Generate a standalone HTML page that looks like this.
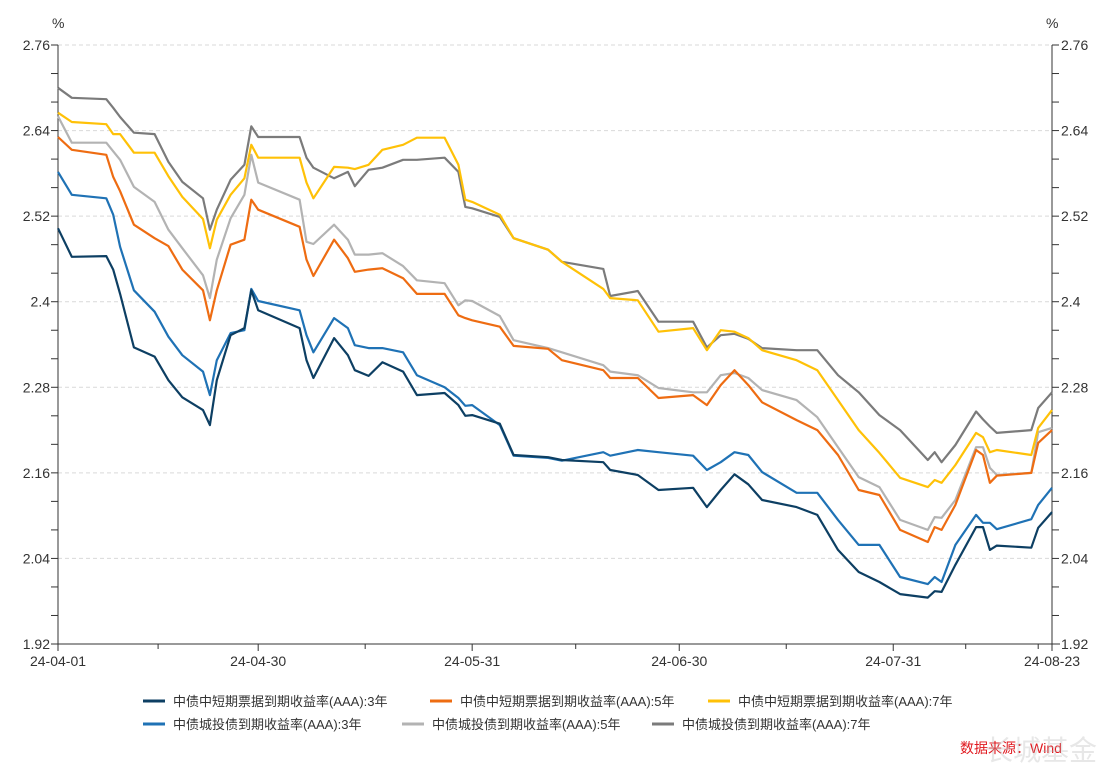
<!DOCTYPE html>
<html><head><meta charset="utf-8"><style>
body{margin:0;background:#fff;width:1110px;height:773px;overflow:hidden;font-family:"Liberation Sans","Noto Sans CJK SC",sans-serif;}
svg text{font-family:"Liberation Sans","Noto Sans CJK SC",sans-serif;fill:#333;}
</style></head><body>
<svg id="chart" width="1110" height="773" xmlns="http://www.w3.org/2000/svg"></svg>
<script>
const days=[0,2,7,8,9,11,14,16,18,21,22,23,25,27,28,29,35,36,37,40,42,43,45,47,50,52,56,58,59,60,64,66,71,73,79,80,84,87,92,94,96,98,100,102,107,110,113,116,119,122,126,127,128,130,133,134,135,136,141,142,144];
const mtn3=[2.503,2.463,2.464,2.445,2.411,2.336,2.323,2.290,2.266,2.248,2.227,2.290,2.353,2.363,2.416,2.388,2.363,2.318,2.293,2.349,2.325,2.304,2.296,2.315,2.302,2.269,2.272,2.255,2.240,2.241,2.229,2.185,2.182,2.178,2.175,2.164,2.157,2.136,2.139,2.112,2.136,2.158,2.144,2.122,2.112,2.101,2.052,2.021,2.007,1.990,1.985,1.994,1.993,2.031,2.084,2.084,2.052,2.058,2.055,2.083,2.105];
const mtn5=[2.631,2.613,2.606,2.575,2.555,2.508,2.489,2.478,2.445,2.416,2.374,2.416,2.480,2.487,2.543,2.529,2.505,2.459,2.436,2.487,2.461,2.442,2.445,2.447,2.433,2.411,2.411,2.381,2.377,2.374,2.365,2.338,2.334,2.318,2.304,2.293,2.293,2.265,2.269,2.255,2.283,2.304,2.283,2.259,2.234,2.220,2.185,2.136,2.129,2.080,2.063,2.084,2.080,2.115,2.192,2.185,2.146,2.156,2.160,2.202,2.220];
const mtn7=[2.665,2.652,2.649,2.635,2.635,2.609,2.609,2.576,2.547,2.516,2.475,2.515,2.550,2.573,2.620,2.602,2.602,2.567,2.545,2.589,2.588,2.586,2.592,2.613,2.620,2.630,2.630,2.592,2.543,2.540,2.522,2.489,2.473,2.456,2.418,2.405,2.402,2.358,2.363,2.332,2.360,2.358,2.349,2.332,2.318,2.304,2.262,2.220,2.188,2.153,2.140,2.150,2.146,2.171,2.216,2.210,2.189,2.192,2.185,2.223,2.248];
const ct3=[2.582,2.550,2.545,2.522,2.477,2.416,2.386,2.351,2.325,2.302,2.269,2.318,2.356,2.360,2.418,2.401,2.388,2.353,2.329,2.377,2.363,2.339,2.335,2.335,2.329,2.297,2.280,2.265,2.254,2.255,2.227,2.184,2.181,2.177,2.189,2.184,2.192,2.189,2.184,2.164,2.175,2.189,2.185,2.161,2.132,2.132,2.094,2.059,2.059,2.014,2.004,2.014,2.007,2.059,2.101,2.090,2.090,2.081,2.095,2.115,2.139];
const ct5=[2.660,2.623,2.623,2.611,2.599,2.561,2.540,2.501,2.475,2.437,2.405,2.459,2.517,2.550,2.606,2.567,2.543,2.484,2.481,2.508,2.487,2.466,2.466,2.468,2.450,2.430,2.426,2.395,2.402,2.401,2.380,2.346,2.335,2.329,2.311,2.302,2.297,2.279,2.273,2.273,2.297,2.300,2.293,2.276,2.262,2.238,2.196,2.154,2.140,2.094,2.080,2.098,2.097,2.122,2.196,2.196,2.167,2.157,2.160,2.217,2.223];
const ct7=[2.700,2.686,2.684,2.672,2.659,2.637,2.635,2.596,2.568,2.545,2.501,2.529,2.571,2.592,2.646,2.631,2.631,2.602,2.588,2.573,2.582,2.562,2.585,2.588,2.599,2.599,2.602,2.582,2.533,2.531,2.519,2.489,2.473,2.456,2.446,2.408,2.415,2.372,2.372,2.336,2.353,2.355,2.348,2.335,2.332,2.332,2.297,2.273,2.241,2.220,2.178,2.189,2.175,2.199,2.246,2.235,2.225,2.216,2.220,2.251,2.273];
const yTicks=[1.92,2.04,2.16,2.28,2.4,2.52,2.64,2.76];
const yTickLabels=["1.92","2.04","2.16","2.28","2.4","2.52","2.64","2.76"];
const xTickDays=[0,29,60,90,121,144];
const xTickLabels=["24-04-01","24-04-30","24-05-31","24-06-30","24-07-31","24-08-23"];
const xMinorDays=[14.5,44.5,75,105.5,131.5,142];
const seriesNames=["中债中短期票据到期收益率(AAA):3年","中债中短期票据到期收益率(AAA):5年","中债中短期票据到期收益率(AAA):7年","中债城投债到期收益率(AAA):3年","中债城投债到期收益率(AAA):5年","中债城投债到期收益率(AAA):7年"];

const svg=document.getElementById('chart');
const NS="http://www.w3.org/2000/svg";
const L=58,R=1052,T=45,B=644,yMin=1.92,yMax=2.76,dMax=144;
const X=d=>L+(R-L)*d/dMax;
const Y=v=>B-(B-T)*(v-yMin)/(yMax-yMin);
function mk(tag,attrs,parent){const e=document.createElementNS(NS,tag);for(const k in attrs)e.setAttribute(k,attrs[k]);(parent||svg).appendChild(e);return e;}

// gridlines
yTicks.forEach(v=>{if(v===yMin)return;
 const g=mk('line',{x1:L,x2:R,y1:Y(v),y2:Y(v),stroke:'#d9d9d9','stroke-dasharray':'4,3'});
 
 
});
// axes
const axL=mk('line',{x1:L,x2:L,y1:T,y2:B,stroke:'#333'});


const axR=mk('line',{x1:R,x2:R,y1:T,y2:B,stroke:'#333'});


const axB=mk('line',{x1:L,x2:R+8,y1:B,y2:B,stroke:'#333'});


// y ticks incl minor
for(let i=0;i<=21;i++){const v=yMin+i*0.04;const y=Y(v);
 mk('line',{x1:L-7,x2:L,y1:y,y2:y,stroke:'#333'});
 mk('line',{x1:R,x2:R+7,y1:y,y2:y,stroke:'#333'});}
yTicks.forEach((v,i)=>{
 const t=mk('text',{x:L-8,y:Y(v)+5,'text-anchor':'end','font-size':'14'});t.textContent=yTickLabels[i];
 
 
 const t2=mk('text',{x:R+9,y:Y(v)+5,'font-size':'14'});t2.textContent=yTickLabels[i];
 
 
});
const u1=mk('text',{x:52,y:28,'font-size':'14'});u1.textContent='%';


const u2=mk('text',{x:1046,y:28,'font-size':'14'});u2.textContent='%';


// x ticks
xTickDays.forEach((d,i)=>{mk('line',{x1:X(d),x2:X(d),y1:B,y2:B+7,stroke:'#333'});
 const t=mk('text',{x:X(d),y:B+22,'text-anchor':'middle','font-size':'14'});t.textContent=xTickLabels[i];
 
 });
xMinorDays.forEach(d=>mk('line',{x1:X(d),x2:X(d),y1:B,y2:B+5,stroke:'#333'}));
// series
const series=[mtn3,mtn5,mtn7,ct3,ct5,ct7];
const colors=['#0d3f63','#ee6c12','#ffc107','#1f72b5','#b3b3b3','#7b7b7b'];
const keys=['mtn-3y-line','mtn-5y-line','mtn-7y-line','chengtou-3y-line','chengtou-5y-line','chengtou-7y-line'];
const order=[5,4,3,2,1,0];
order.forEach(si=>{const vals=series[si];
 const d=vals.map((v,i)=>(i?'L':'M')+X(days[i]).toFixed(1)+','+Y(v).toFixed(1)).join(' ');
 const p=mk('path',{d:d,fill:'none',stroke:colors[si],'stroke-width':'2.2','stroke-linejoin':'round'});
 
 });
// legend
const legPos=[[143,701],[430,701],[708,701],[143,724],[402,724],[652,724]];
seriesNames.forEach((n,i)=>{const [lx,ly]=legPos[i];
 const g=mk('g',{});
 
 
 mk('line',{x1:lx,x2:lx+22,y1:ly,y2:ly,stroke:colors[i],'stroke-width':'3'},g);
 const t=mk('text',{x:lx+30,y:ly+5,'font-size':'13'},g);t.textContent=n;});
// watermark
const w=mk('text',{x:960,y:753,'font-size':'14',fill:'#e0181e'});w.textContent='数据来源：Wind';
w.style.fill='#e0181e';


const w2=mk('text',{x:985,y:760,'font-size':'28',opacity:'0.35'});w2.textContent='长城基金';
w2.style.fill='#bbb';


</script>
</body></html>
